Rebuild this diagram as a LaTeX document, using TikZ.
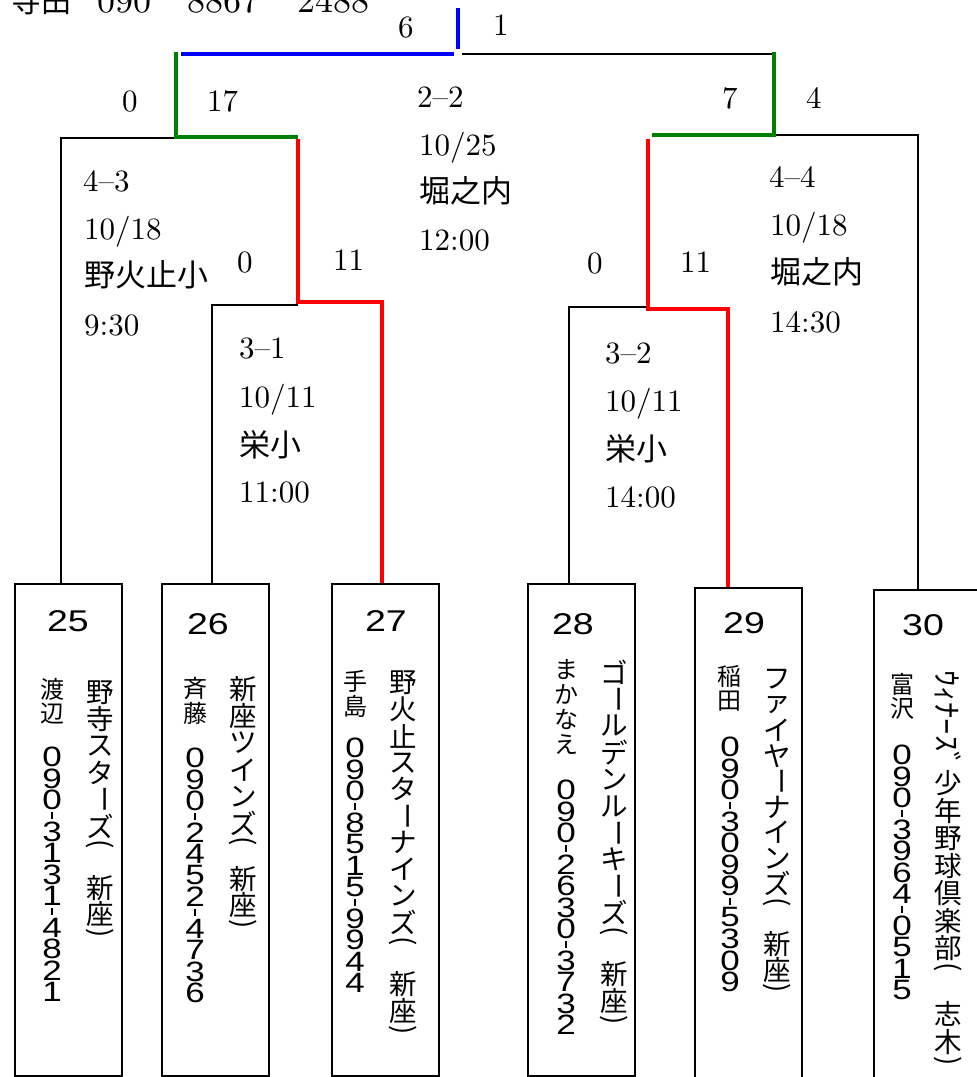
\documentclass[tikz,border=0pt]{standalone}
\usepackage{fontspec}
\usepackage{graphicx}
\newfontfamily\jp{Noto Sans CJK JP}
\newfontfamily\dg[FakeStretch=1.25]{Liberation Sans}
\newfontfamily\lmt[Ligatures=TeX]{lmroman10-regular.otf}
\definecolor{cblue}{RGB}{0,0,255}
\definecolor{cgreen}{RGB}{0,128,0}
\definecolor{cred}{RGB}{255,0,0}
\newdimen\vtgap \vtgap=21pt
\newcommand\vtcell[2]{\hbox to 0pt{\hss\vbox to #1{\vss\hbox{#2}\vss}\hss}}
\ExplSyntaxOn
\NewDocumentCommand\vcol{mm}
 {
  \vbox
   {
    \offinterlineskip
    \tl_map_inline:nn {#2}
     {
      \str_case:nnF {##1}
       {
        {-}{\vtcell{10pt}{\rule{1.5pt}{7pt}}}
        {(}{\vtcell{14pt}{\rotatebox[origin=c]{-90}{(}}}
        {)}{\vtcell{14pt}{\rotatebox[origin=c]{-90}{)}}}
        {*}{\kern\vtgap}
        {ー}{\vtcell{#1}{\rotatebox[origin=c]{-90}{ー}}}
       }
       {\vtcell{#1}{##1}}
     }
   }
 }
\ExplSyntaxOff
\tikzset{
  blk/.style={line width=1.8pt},
  win/.style={line width=4.6pt},
  box/.style={draw, line width=1.5pt, anchor=north west, inner sep=0pt, minimum width=107pt},
  lbl/.style={anchor=base west, inner sep=0pt, font=\lmt\fontsize{31}{31}\selectfont},
  bnum/.style={inner sep=0pt, font=\dg\fontsize{30}{30}\selectfont},
  vteam/.style={anchor=north, inner sep=0pt, font=\jp\fontsize{27.5}{27.5}\selectfont},
  vname/.style={anchor=north, inner sep=0pt, font=\jp\fontsize{24}{24}\selectfont},
  vtel/.style={anchor=north, inner sep=0pt, font=\dg\fontsize{28}{28}\selectfont},
}
\begin{document}
\begin{tikzpicture}[x=1pt,y=-1pt]
\useasboundingbox (0,0) rectangle (977,1077);
\clip (0,0) rectangle (977,1077);

% header line (cut off at the top)
\node[anchor=base west, inner sep=0pt] (hdr) at (11,12)
  {{\jp\fontsize{30}{30}\selectfont 寺田}\hspace{26pt}{\lmt\fontsize{36}{36}\selectfont 090\hspace{9pt}\raisebox{9pt}{--}\hspace{9pt}8867\hspace{10pt}\raisebox{9pt}{--}\hspace{10pt}2488}};

% team boxes
\node[box, minimum height=492pt] (b25) at (14,583) {};
\node[box, minimum height=492pt] (b26) at (161,583) {};
\node[box, minimum height=492pt] (b27) at (331,583) {};
\node[box, minimum height=492pt] (b28) at (527,583) {};
\node[box, minimum height=520pt] (b29) at (694,587) {};
\node[box, minimum height=520pt] (b30) at (873,589) {};

% box numbers
\node[bnum] (n25) at (68,621) {25};
\node[bnum] (n26) at (208,624) {26};
\node[bnum] (n27) at (386,621) {27};
\node[bnum] (n28) at (573,624) {28};
\node[bnum] (n29) at (744,623) {29};
\node[bnum] (n30) at (923,625) {30};

% team names (vertical)
\node[vteam] (t25) at (100,679) {\vcol{26.7pt}{野寺スターズ(*新座)}};
\node[vteam] (t26) at (243,676) {\vtgap=15pt\vcol{26.7pt}{新座ツインズ(*新座)}};
\node[vteam] (t27) at (403,669) {\vcol{26.7pt}{野火止スターナインズ(*新座)}};
\node[vteam] (t28) at (614,659) {\vcol{26.7pt}{ゴールデンルーキーズ(*新座)}};
\node[vteam] (t29) at (777,666) {\vcol{25.6pt}{ファイヤーナインズ(*新座)}};
\node[anchor=north, inner sep=0pt] (t30a) at (948,670) {\rotatebox{-90}{\scalebox{1.12}[1]{\jp\fontsize{29}{29}\selectfont ｳｨﾅｰｽﾞ}}};
\node[vteam] (t30b) at (948,769) {\vtgap=24pt\vcol{27.6pt}{少年野球倶楽部(*志木)}};

% contact names (vertical)
\node[vname] (m25) at (52,677) {\vcol{24.5pt}{渡辺}};
\node[vname] (m26) at (195,676) {\vcol{24.5pt}{斉藤}};
\node[vname] (m27) at (355,669) {\vcol{24.5pt}{手島}};
\node[vname] (m28) at (566,657) {\vcol{25pt}{まかなえ}};
\node[vname] (m29) at (729,664) {\vcol{24.5pt}{稲田}};
\node[vname] (m30) at (902,672) {\vcol{24.5pt}{富沢}};

% phone numbers (vertical)
\node[vtel] (p25) at (52,746) {\vcol{21.5pt}{090-3131-4821}};
\node[vtel] (p26) at (195,747) {\vcol{21.5pt}{090-2452-4736}};
\node[vtel] (p27) at (355,737) {\vcol{21.5pt}{090-8515-9944}};
\node[vtel] (p28) at (566,779) {\vcol{21.5pt}{090-2630-3732}};
\node[vtel] (p29) at (730,736) {\vcol{21.5pt}{090-3099-5309}};
\node[vtel] (p30) at (902,744) {\vcol{21.5pt}{090-3964-0515}};

% junction coordinates
\coordinate (j25) at (61,138);
\coordinate (g1) at (176,138);
\coordinate (j26) at (212,305);
\coordinate (r1) at (298,305);
\coordinate (j28) at (569,307);
\coordinate (r2) at (647,307);
\coordinate (j30) at (918,135);
\coordinate (g2) at (774,135);
\coordinate (tr) at (774,54);
\coordinate (tl) at (462,54);
\coordinate (r27) at (382,302);
\coordinate (r27b) at (298,302);
\coordinate (r27c) at (298,139);
\coordinate (r29) at (728,309);
\coordinate (r29b) at (648,309);
\coordinate (r29c) at (648,139);
\coordinate (gl1) at (298,137);
\coordinate (gl2) at (176,137);
\coordinate (gl3) at (176,52);
\coordinate (gr1) at (652,135);
\coordinate (gr2) at (774,135);
\coordinate (gr3) at (774,52);
\coordinate (bl1) at (181,54);
\coordinate (bl2) at (454,54);
\coordinate (bv1) at (458,49);
\coordinate (bv2) at (458,8);

% black bracket lines
\draw[blk] (b25.north -| j25) -- (j25) -- (g1);
\draw[blk] (b26.north -| j26) -- (j26) -- (r1);
\draw[blk] (b28.north -| j28) -- (j28) -- (r2);
\draw[blk] (b30.north -| j30) -- (j30) -- (g2);
\draw[blk] (tr) -- (tl);

% winners
\draw[win, cred] (b27.north -| r27) -- (r27) -- (r27b) -- (r27c);
\draw[win, cred] (b29.north -| r29) -- (r29) -- (r29b) -- (r29c);
\draw[win, cgreen] (gl1) -- (gl2) -- (gl3);
\draw[win, cgreen] (gr1) -- (gr2) -- (gr3);
\draw[win, cblue] (bl1) -- (bl2);
\draw[win, cblue] (bv1) -- (bv2);

% scores
\node[lbl] (s6) at (398,37) {6};
\node[lbl] (s1) at (493,35) {1};
\node[lbl] (s0a) at (122,111) {0};
\node[lbl] (s17) at (207,111) {17};
\node[lbl] (s7) at (722,108) {7};
\node[lbl] (s4) at (806,108) {4};
\node[lbl] (s0b) at (237,272) {0};
\node[lbl] (s11a) at (333,270) {11};
\node[lbl] (s0c) at (587,273) {0};
\node[lbl] (s11b) at (680,272) {11};

% match info
\node[lbl] (fa1) at (417,107) {2--2};
\node[lbl] (fa2) at (419,155) {10/25};
\node[lbl] (fa3) at (419,202) {\jp 堀之内};
\node[lbl] (fa4) at (419,250) {12:00};

\node[lbl] (sa1) at (83,191) {4--3};
\node[lbl] (sa2) at (84,239) {10/18};
\node[lbl] (sa3) at (84,286) {\jp 野火止小};
\node[lbl] (sa4) at (84,335) {9:30};

\node[lbl] (sb1) at (769,187) {4--4};
\node[lbl] (sb2) at (770,235) {10/18};
\node[lbl] (sb3) at (770,283) {\jp 堀之内};
\node[lbl] (sb4) at (770,332) {14:30};

\node[lbl] (qa1) at (239,358) {3--1};
\node[lbl] (qa2) at (239,407) {10/11};
\node[lbl] (qa3) at (239,456) {\jp 栄小};
\node[lbl] (qa4) at (239,502) {11:00};

\node[lbl] (qb1) at (605,363) {3--2};
\node[lbl] (qb2) at (605,411) {10/11};
\node[lbl] (qb3) at (605,460) {\jp 栄小};
\node[lbl] (qb4) at (605,507) {14:00};
\end{tikzpicture}
\end{document}
